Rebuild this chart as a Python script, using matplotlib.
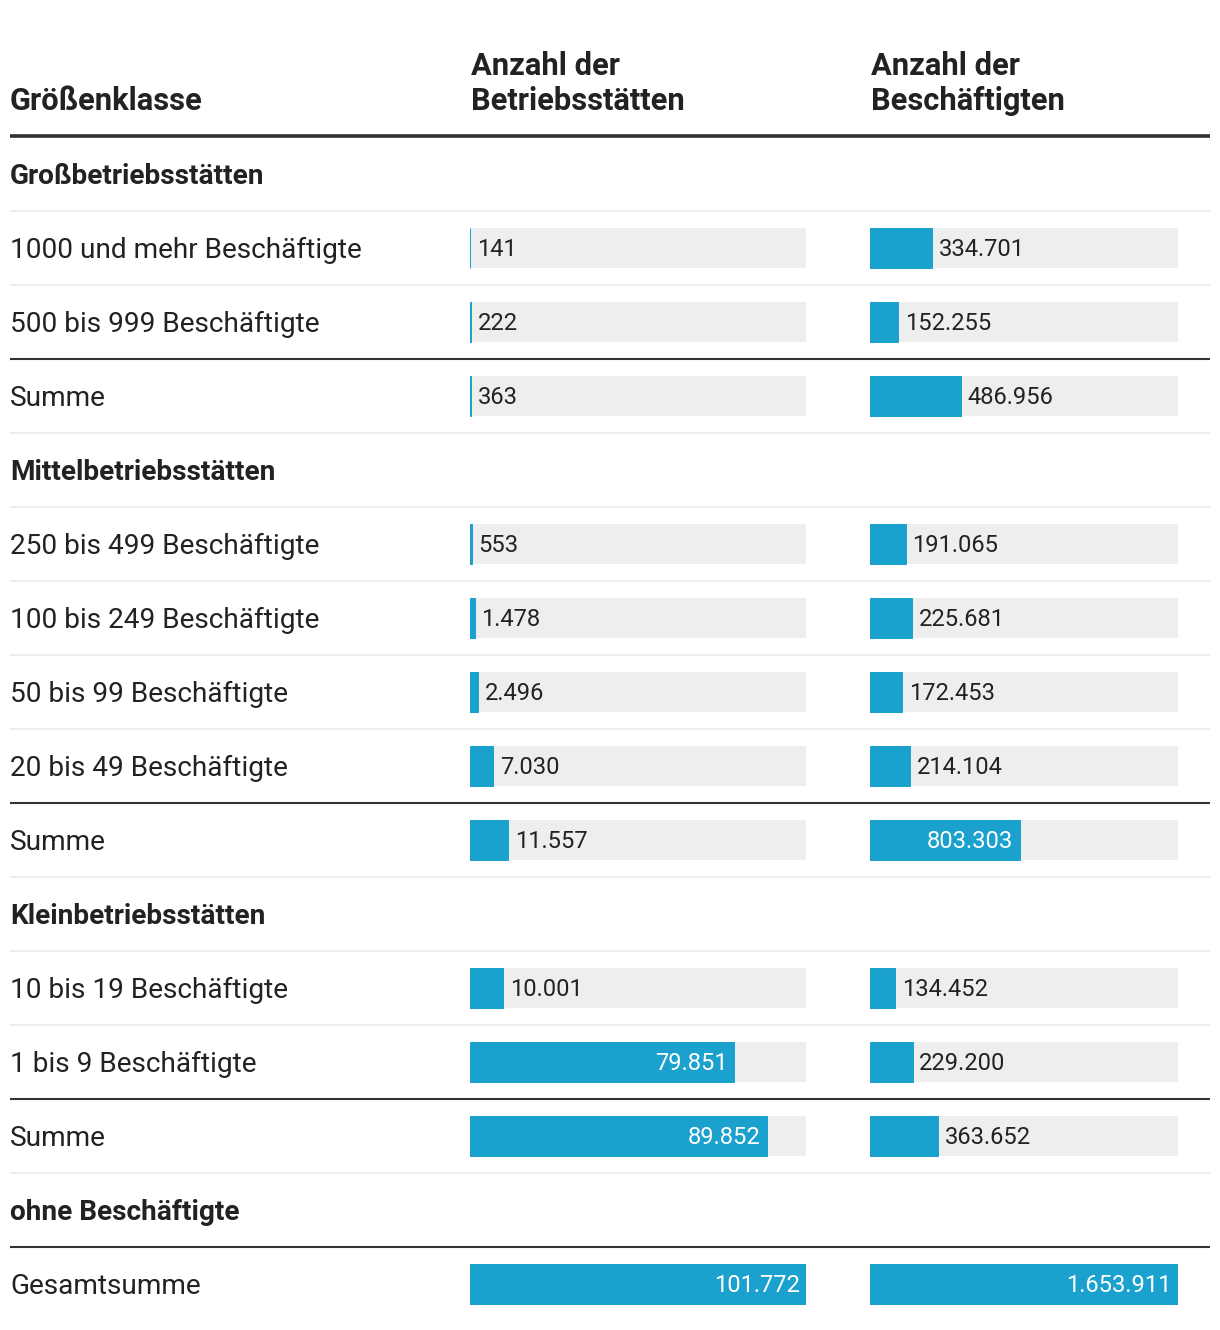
import matplotlib
matplotlib.use("Agg")
import matplotlib.pyplot as plt

plt.rcParams['font.family'] = ['Roboto', 'DejaVu Sans']

# ---- data ----
row_labels = ["Großbetriebsstätten", "1000 und mehr Beschäftigte", "500 bis 999 Beschäftigte", "Summe",
              "Mittelbetriebsstätten", "250 bis 499 Beschäftigte", "100 bis 249 Beschäftigte",
              "50 bis 99 Beschäftigte", "20 bis 49 Beschäftigte", "Summe",
              "Kleinbetriebsstätten", "10 bis 19 Beschäftigte", "1 bis 9 Beschäftigte", "Summe",
              "ohne Beschäftigte", "Gesamtsumme"]
row_kinds = ["group", "data", "data", "sum",
             "group", "data", "data", "data", "data", "sum",
             "group", "data", "data", "sum",
             "group", "sum"]
betriebsstaetten = [None, 141, 222, 363,
                    None, 553, 1478, 2496, 7030, 11557,
                    None, 10001, 79851, 89852,
                    None, 101772]
beschaeftigte = [None, 334701, 152255, 486956,
                 None, 191065, 225681, 172453, 214104, 803303,
                 None, 134452, 229200, 363652,
                 None, 1653911]
col_headers = ["Größenklasse", "Anzahl der\nBetriebsstätten", "Anzahl der\nBeschäftigten"]

# ---- style ----
W, H = 1220, 1330
BLUE = "#1aa1cd"
GREY = "#eeeeee"
DARK = "#333333"
TXT = "#222222"

fig = plt.figure(figsize=(W / 100, H / 100), dpi=100)
fig.patch.set_facecolor("white")
ax = fig.add_axes([0, 0, 1, 1])
ax.set_xlim(0, W)
ax.set_ylim(H, 0)
ax.axis("off")

first_y, row_h = 174, 74
ys = [first_y + i * row_h for i in range(len(row_labels))]

# header
HFS = 22.2
ax.text(10, 110, col_headers[0], fontsize=HFS, fontweight="bold", color=TXT, va="baseline")
ax.text(471, 110, col_headers[1], fontsize=HFS, fontweight="bold", color=TXT, va="baseline",
        linespacing=1.22)
ax.text(871, 110, col_headers[2], fontsize=HFS, fontweight="bold", color=TXT, va="baseline",
        linespacing=1.22)
ax.plot([10, 1210], [136, 136], color=DARK, lw=2.6, solid_capstyle="butt")

# row labels and separators
for i, (lab, kind, y) in enumerate(zip(row_labels, row_kinds, ys)):
    ax.text(10, y + 2.5, lab, fontsize=20.2,
            fontweight="bold" if kind == "group" else "normal",
            color=TXT, va="center")
    if i < len(row_labels) - 1:
        nxt = row_kinds[i + 1]
        if nxt == "sum":
            ax.plot([10, 1210], [y + 37, y + 37], color=DARK, lw=1.5, solid_capstyle="butt")
        else:
            ax.plot([10, 1210], [y + 37, y + 37], color=GREY, lw=1.5, solid_capstyle="butt")

# bar columns
def bar_column(left_px, width_px, values, thresh_px):
    vmax = max(v for v in values if v is not None)
    bax = fig.add_axes([left_px / W, 0, width_px / W, 1])
    bax.set_xlim(0, vmax)
    bax.set_ylim(H, 0)
    bax.axis("off")
    bys = [y for y, v in zip(ys, values) if v is not None]
    bvs = [v for v in values if v is not None]
    bax.barh(bys, [vmax] * len(bvs), height=40, color=GREY, linewidth=0)
    bax.barh(bys, bvs, height=40, color=BLUE, edgecolor=BLUE, linewidth=0.7)
    for y, v in zip(bys, bvs):
        s = f"{v:,}".replace(",", ".")
        if v / vmax * width_px > thresh_px:
            bax.annotate(s, (v, y + 1.5), xytext=(-4.5, 0), textcoords="offset points",
                         ha="right", va="center", fontsize=17.1, color="white")
        else:
            bax.annotate(s, (v, y + 1.5), xytext=(4.8, 0), textcoords="offset points",
                         ha="left", va="center", fontsize=17.1, color=TXT)

bar_column(470, 336, betriebsstaetten, 115)
bar_column(870, 308, beschaeftigte, 115)

fig.savefig("out.png", dpi=100, facecolor="white")
